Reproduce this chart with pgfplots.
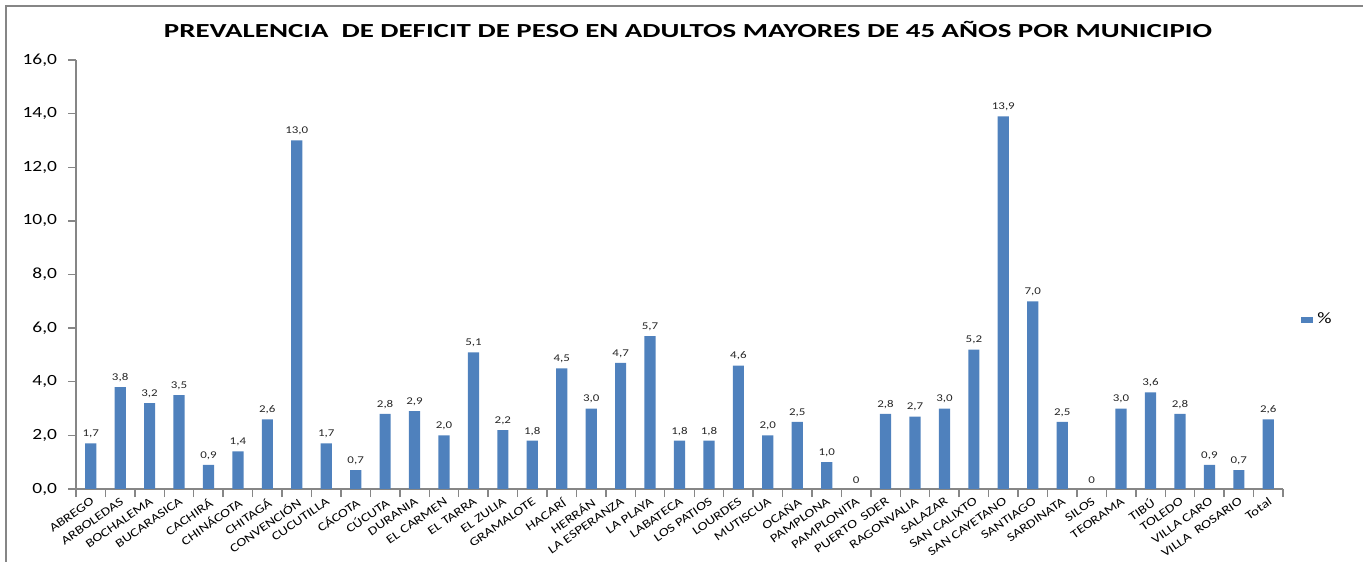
\documentclass[border=0pt]{standalone}
\usepackage{pgfplots}
\usepackage{pgfplotstable}
\pgfplotsset{compat=1.18}
\usepackage{fontspec}
\setmainfont{Carlito}[FakeStretch=1.25]
\newfontfamily\titlefont{Carlito}[FakeStretch=1.45]
\definecolor{barblue}{RGB}{79,129,189}
\definecolor{axgray}{RGB}{134,134,134}
\pgfplotstableread{
x y lab
0 1.7 1,7
1 3.8 3,8
2 3.2 3,2
3 3.5 3,5
4 0.9 0,9
5 1.4 1,4
6 2.6 2,6
7 13.0 13,0
8 1.7 1,7
9 0.7 0,7
10 2.8 2,8
11 2.9 2,9
12 2.0 2,0
13 5.1 5,1
14 2.2 2,2
15 1.8 1,8
16 4.5 4,5
17 3.0 3,0
18 4.7 4,7
19 5.7 5,7
20 1.8 1,8
21 1.8 1,8
22 4.6 4,6
23 2.0 2,0
24 2.5 2,5
25 1.0 1,0
26 0 0
27 2.8 2,8
28 2.7 2,7
29 3.0 3,0
30 5.2 5,2
31 13.9 13,9
32 7.0 7,0
33 2.5 2,5
34 0 0
35 3.0 3,0
36 3.6 3,6
37 2.8 2,8
38 0.9 0,9
39 0.7 0,7
40 2.6 2,6
}\datatable
\begin{document}
\begin{tikzpicture}
\useasboundingbox (0,0) rectangle (681.5bp,283bp);
\draw[axgray, line width=0.9bp] (3bp,2bp) -- (3bp,280bp) -- (681.5bp,280bp);
\node[font=\fontsize{10}{12}\titlefont\bfseries] at (344bp,268.5bp) {PREVALENCIA\ \ DE DEFICIT DE PESO EN ADULTOS MAYORES DE 45 AÑOS POR MUNICIPIO};
\begin{axis}[
  at={(38bp,38.5bp)}, anchor=south west,
  scale only axis, width=603.5bp, height=214.5bp,
  xmin=-0.5, xmax=40.5, ymin=0, ymax=16,
  axis x line*=bottom, axis y line*=left,
  axis line style={axgray, line width=0.7bp, -},
  tick align=outside,
  major tick length=0pt, minor tick length=4bp,
  every tick/.style={axgray, line width=0.7bp},
  ytick={0,2,...,16}, minor ytick={0,2,...,16},
  /pgf/number format/assume math mode=true,
  yticklabel style={font=\fontsize{7.8}{9}\selectfont, /pgf/number format/.cd, fixed, fixed zerofill, precision=1, use comma},
  yticklabel shift=6bp,
  xtick={0,...,40}, minor xtick={-0.5,0.5,...,40.5},
  xticklabels={ABREGO,ARBOLEDAS,BOCHALEMA,BUCARASICA,CACHIRÁ,CHINÁCOTA,CHITAGÁ,CONVENCIÓN,CUCUTILLA,CÁCOTA,CÚCUTA,DURANIA,EL CARMEN,EL TARRA,EL ZULIA,GRAMALOTE,HACARÍ,HERRÁN,LA ESPERANZA,LA PLAYA,LABATECA,LOS PATIOS,LOURDES,MUTISCUA,OCAÑA,PAMPLONA,PAMPLONITA,PUERTO\ \ SDER,RAGONVALIA,SALAZAR,SAN CALIXTO,SAN CAYETANO,SANTIAGO,SARDINATA,SILOS,TEORAMA,TIBÚ,TOLEDO,VILLA CARO,VILLA\ \ ROSARIO,Total},
  xticklabel style={font=\fontsize{6}{7}\selectfont, rotate=35, anchor=north east, inner sep=0.5bp},
  xticklabel shift=3bp,
  legend style={at={(1.010,0.394)}, anchor=west, draw=none, fill=none, font=\fontsize{8}{9}\selectfont},
  legend image code/.code={\fill[barblue] (0bp,-1.6bp) rectangle (6bp,1.6bp);},
]
\addplot[ybar, bar width=5.6bp, fill=barblue, draw=none,
  point meta=explicit symbolic,
  nodes near coords,
  every node near coord/.append style={font=\fontsize{5.2}{6}\selectfont, text=black!85, anchor=south, inner sep=2.5bp}]
  table[x=x, y=y, meta=lab] {\datatable};
\addlegendentry{\%}
\end{axis}
\end{tikzpicture}
\end{document}
